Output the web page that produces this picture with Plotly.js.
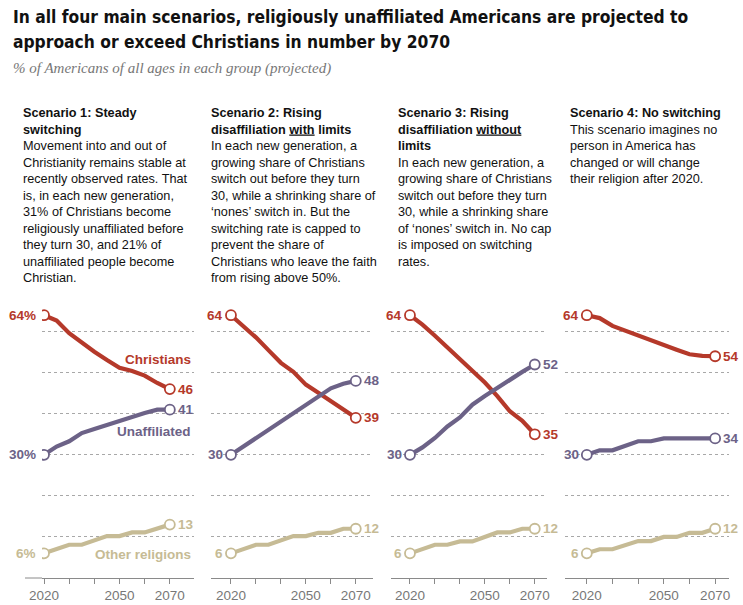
<!DOCTYPE html>
<html>
<head>
<meta charset="utf-8">
<script src="https://cdn.plot.ly/plotly-3.0.1.min.js"></script>
<style>html,body{margin:0;padding:0;background:#fff;}#chart{width:743px;height:605px;}</style>
</head>
<body>
<div id="chart"></div>
<script>
// ---- Data ----
const years = [2020, 2025, 2030, 2035, 2040, 2045, 2050, 2055, 2060, 2065, 2070];

const s1Christians    = [64, 62.7, 59.6, 57.3, 55.1, 53.1, 51.2, 50.4, 49.3, 47.5, 46];
const s1Unaffiliated  = [30, 32, 33.3, 35.3, 36.3, 37.3, 38.3, 39.4, 40.2, 41, 41];
const s1Other         = [6, 7.1, 8.1, 8.1, 9.2, 10.2, 10.2, 11.1, 11.1, 12, 13];

const s2Christians    = [64, 61.4, 58.6, 55.5, 52.4, 50.2, 47.1, 45.1, 43.1, 41, 39];
const s2Unaffiliated  = [30, 32, 34, 36.1, 38.2, 40.2, 42.2, 44.3, 46.2, 47.3, 48];
const s2Other         = [6, 7, 8.1, 8.1, 9.2, 10.2, 10.2, 11, 11, 12, 12];

const s3Christians    = [64, 61.7, 59, 56.1, 53.3, 50.4, 47.6, 44.3, 40.6, 38.3, 35];
const s3Unaffiliated  = [30, 31.8, 34.1, 36.9, 39.1, 42.2, 44.3, 46.3, 48.4, 50.2, 52];
const s3Other         = [6, 7.1, 8.1, 8.1, 8.9, 8.9, 10, 11.1, 11.1, 12, 12];

const s4Christians    = [64, 63.3, 61.4, 60.2, 59, 57.8, 56.7, 55.6, 54.5, 54.1, 54];
const s4Unaffiliated  = [30, 31.1, 31.1, 32.2, 33.3, 33.3, 34, 34, 34, 34, 34];
const s4Other         = [6, 7, 7, 8, 9, 9, 10, 10, 11, 11, 12];

const tickYears  = [2020, 2030, 2040, 2050, 2060, 2070];
const tickLabels = ['2020', '', '', '2050', '', '2070'];
const gridValues = [10, 20, 30, 40, 50, 60];

const seriesNames = ['Christians', 'Unaffiliated', 'Other religions'];

const titleLine1 = 'In all four main scenarios, religiously unaffiliated Americans are projected to';
const titleLine2 = 'approach or exceed Christians in number by 2070';
const subtitle = '% of Americans of all ages in each group (projected)';

const scenarioTexts = [
  '<b>Scenario 1: Steady<br>switching</b><br>Movement into and out of<br>Christianity remains stable at<br>recently observed rates. That<br>is, in each new generation,<br>31% of Christians become<br>religiously unaffiliated before<br>they turn 30, and 21% of<br>unaffiliated people become<br>Christian.',
  '<b>Scenario 2: Rising<br>disaffiliation <span style="text-decoration:underline">with</span> limits</b><br>In each new generation, a<br>growing share of Christians<br>switch out before they turn<br>30, while a shrinking share of<br>‘nones’ switch in. But the<br>switching rate is capped to<br>prevent the share of<br>Christians who leave the faith<br>from rising above 50%.',
  '<b>Scenario 3: Rising<br>disaffiliation <span style="text-decoration:underline">without</span><br>limits</b><br>In each new generation, a<br>growing share of Christians<br>switch out before they turn<br>30, while a shrinking share<br>of ‘nones’ switch in. No cap<br>is imposed on switching<br>rates.',
  '<b>Scenario 4: No switching</b><br>This scenario imagines no<br>person in America has<br>changed or will change<br>their religion after 2020.'
];

// ---- Styling ----
const W = 743, H = 605;
const colors = ['#B5392A', '#6C6287', '#C6BB95'];
const panels = [
  {series: [s1Christians, s1Unaffiliated, s1Other], dom: [42, 194], range: [2019.2, 2079.6], textX: 21, pct: true},
  {series: [s2Christians, s2Unaffiliated, s2Other], dom: [211, 373], range: [2012, 2076.9], textX: 209, pct: false},
  {series: [s3Christians, s3Unaffiliated, s3Other], dom: [391, 547], range: [2012.4, 2074.9], textX: 396, pct: false},
  {series: [s4Christians, s4Unaffiliated, s4Other], dom: [565, 729], range: [2011.5, 2075.4], textX: 568, pct: false}
];
const plotTop = 307, plotBottom = 578;
const py = v => 1 - v / H;

const labelFont = 'Liberation Sans, Arial, sans-serif';
const titleFont = 'DejaVu Sans Condensed, Liberation Sans Narrow, Arial Narrow, sans-serif';
const data = [];
const annotations = [];
const shapes = [];
const layout = {
  width: W, height: H,
  margin: {l: 0, r: 0, t: 0, b: 0},
  paper_bgcolor: '#fff', plot_bgcolor: 'rgba(0,0,0,0)',
  showlegend: false,
  font: {family: labelFont, color: '#222'},
  annotations: annotations,
  shapes: shapes
};

panels.forEach((p, i) => {
  const n = i + 1;
  const xa = n === 1 ? 'x' : 'x' + n;
  const ya = n === 1 ? 'y' : 'y' + n;
  layout['xaxis' + (n === 1 ? '' : n)] = {
    domain: [p.dom[0] / W, p.dom[1] / W],
    range: p.range,
    anchor: ya,
    tickvals: tickYears, ticktext: tickLabels,
    ticks: 'outside', ticklen: 5, tickwidth: 1, tickcolor: '#8a8a8a',
    showline: true, linecolor: '#8a8a8a', linewidth: 1,
    showgrid: false, zeroline: false,
    tickfont: {family: labelFont, size: 13.5, color: '#777'},
    fixedrange: true
  };
  layout['yaxis' + (n === 1 ? '' : n)] = {
    domain: [1 - plotBottom / H, 1 - plotTop / H],
    range: [0, 66],
    anchor: xa,
    tickvals: gridValues,
    showticklabels: false,
    ticks: '',
    showgrid: true, gridcolor: '#a8a8a8', griddash: 'dot', gridwidth: 1,
    zeroline: false, showline: false,
    fixedrange: true
  };
  p.series.forEach((vals, k) => {
    data.push({
      x: years, y: vals, xaxis: xa, yaxis: ya,
      mode: 'lines', line: {color: colors[k], width: 4.2},
      hoverinfo: 'skip'
    });
    const last = vals.length - 1;
    data.push({
      x: [years[0], years[last]], y: [vals[0], vals[last]], xaxis: xa, yaxis: ya,
      mode: 'markers',
      marker: {symbol: 'circle', size: 10, color: '#fff', line: {color: colors[k], width: 1.8}},
      hoverinfo: 'skip'
    });
    annotations.push({
      xref: xa, yref: ya, x: years[0], y: vals[0],
      text: '<b>' + Math.round(vals[0]) + (p.pct ? '%' : '') + '</b>',
      showarrow: false, xanchor: 'right', yanchor: 'middle', xshift: -6,
      font: {family: labelFont, size: 13.5, color: colors[k]}
    });
    annotations.push({
      xref: xa, yref: ya, x: years[last], y: vals[last],
      text: '<b>' + Math.round(vals[last]) + '</b>',
      showarrow: false, xanchor: 'left', yanchor: 'middle', xshift: 6,
      font: {family: labelFont, size: 13.5, color: colors[k]}
    });
  });
  annotations.push({
    xref: 'paper', yref: 'paper', x: p.textX / W, y: py(104),
    xanchor: 'left', yanchor: 'top', align: 'left',
    text: scenarioTexts[i], showarrow: false,
    font: {family: labelFont, size: 12.7, color: '#111'}
  });
});

// panel 1 axis line extends left of the gridlines
shapes.push({type: 'line', xref: 'paper', yref: 'paper', x0: 25 / W, x1: 42 / W, y0: 1 - plotBottom / H, y1: 1 - plotBottom / H, line: {color: '#8a8a8a', width: 1}});

// series name labels in panel 1
const seriesLabelY = [359, 431, 554];
seriesNames.forEach((nm, k) => {
  annotations.push({
    xref: 'paper', yref: 'paper', x: 193 / W, y: py(seriesLabelY[k]),
    xanchor: 'right', yanchor: 'middle', text: '<b>' + nm + '</b>', showarrow: false,
    font: {family: labelFont, size: 13.5, color: colors[k]}
  });
});

// titles
annotations.push({xref: 'paper', yref: 'paper', x: 11 / W, y: py(17), xanchor: 'left', yanchor: 'middle', showarrow: false,
  text: '<b>' + titleLine1 + '</b>', font: {family: titleFont, size: 17.3, color: '#111'}});
annotations.push({xref: 'paper', yref: 'paper', x: 11 / W, y: py(42), xanchor: 'left', yanchor: 'middle', showarrow: false,
  text: '<b>' + titleLine2 + '</b>', font: {family: titleFont, size: 17.3, color: '#111'}});
annotations.push({xref: 'paper', yref: 'paper', x: 11 / W, y: py(68), xanchor: 'left', yanchor: 'middle', showarrow: false,
  text: '<i>' + subtitle + '</i>', font: {family: 'Liberation Serif, DejaVu Serif, serif', size: 15, color: '#777'}});

Plotly.newPlot('chart', data, layout, {displayModeBar: false, staticPlot: true});
</script>
</body>
</html>
